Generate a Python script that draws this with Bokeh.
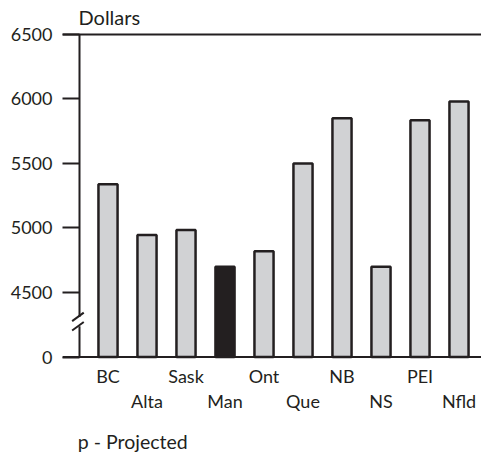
from bokeh.plotting import figure
from bokeh.models import ColumnDataSource, Range1d, FixedTicker
from bokeh.core.properties import value
from bokeh.embed import file_html
from bokeh.resources import INLINE

# ---- data ----
provinces = ["BC", "Alta", "Sask", "Man", "Ont", "Que", "NB", "NS", "PEI", "Nfld"]
dollars = [5340, 4945, 4985, 4700, 4820, 5500, 5850, 4700, 5835, 5980]
highlight = "Man"
tick_values = [0, 4500, 5000, 5500, 6000, 6500]
unit_title = "Dollars"
footnote = "p - Projected"

# broken axis: 0 sits one step below 4500, then 500 per step
def to_axis(v):
    return 0.0 if v == 0 else 1.0 + (v - 4500) / 500.0

INK = "#231f20"
GRAY = "#d1d2d4"
FONT = "Lato"
FS = "18px"

xs = list(range(len(provinces)))
src = ColumnDataSource(dict(
    x=xs,
    top=[to_axis(v) for v in dollars],
    color=[INK if c == highlight else GRAY for c in provinces],
    name=provinces,
))

x_left, x_right = -1.167, 9.577
p = figure(width=481, height=453, output_backend="svg", toolbar_location=None,
           x_range=Range1d(x_left, x_right), y_range=Range1d(-1.496, 5.527),
           min_border_left=62, min_border_right=0, min_border_top=0, min_border_bottom=0,
           x_axis_location=None)
p.outline_line_color = None
p.grid.visible = False
p.background_fill_color = "white"

# y axis: labels + inward ticks
ax = p.yaxis[0]
ax.ticker = FixedTicker(ticks=[to_axis(v) for v in tick_values])
ax.major_label_overrides = {to_axis(v): str(v) for v in tick_values}
ax.axis_line_color = None
ax.major_tick_in = 17
ax.major_tick_out = 0
ax.major_tick_line_width = 2
ax.major_tick_line_color = INK
ax.minor_tick_line_color = None
ax.major_label_standoff = 10
ax.major_label_text_font = FONT
ax.major_label_text_font_size = FS
ax.major_label_text_color = INK

x_axis = -0.731
top_v = to_axis(tick_values[-1])

# frame lines
p.segment(x0=[x_left, x_left], y0=[0, top_v], x1=[x_right, x_right], y1=[0, top_v],
          line_color=INK, line_width=2)
# vertical axis with break
brk_lo, brk_hi = 0.476, 0.622
p.segment(x0=[x_axis, x_axis], y0=[0, brk_hi], x1=[x_axis, x_axis], y1=[brk_lo, top_v],
          line_color=INK, line_width=2)
dx, dy = 0.149, 0.066
cx = x_axis - 0.04
p.segment(x0=[cx - dx, cx - dx], y0=[brk_hi - dy, brk_lo - dy],
          x1=[cx + dx, cx + dx], y1=[brk_hi + dy, brk_lo + dy],
          line_color=INK, line_width=2)

# bars
p.vbar(x="x", top="top", bottom=0, width=0.49, source=src,
       fill_color="color", line_color=INK, line_width=2.5)

# category labels in two staggered rows
row_y = [-0.30, -0.687]
p.text(x=xs, y=[row_y[i % 2] for i in xs], text=provinces,
       text_align="center", text_baseline="alphabetic",
       text_font=value(FONT), text_font_size=FS, text_color=INK)

# unit title and footnote
p.text(x=[-0.757], y=[5.268], text=[unit_title], text_align="left",
       text_baseline="alphabetic", text_font=value(FONT), text_font_size="20px", text_color=INK)
p.text(x=[-0.775], y=[-1.307], text=[footnote], text_align="left",
       text_baseline="alphabetic", text_font=value(FONT), text_font_size="19.5px", text_color=INK)

open("out.html", "w").write(file_html(p, INLINE))
